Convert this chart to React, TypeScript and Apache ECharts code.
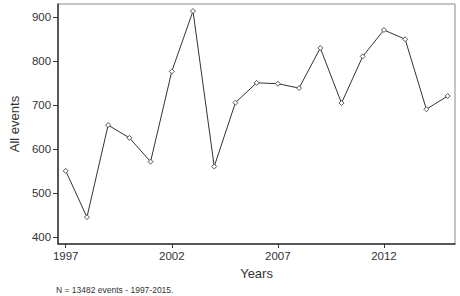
import React, { useEffect, useRef } from "react";
import * as echarts from "echarts";

const years = [1997, 1998, 1999, 2000, 2001, 2002, 2003, 2004, 2005, 2006, 2007, 2008, 2009, 2010, 2011, 2012, 2013, 2014, 2015];
const events = [550, 445, 654, 625, 571, 776, 913, 560, 705, 750, 748, 738, 829, 704, 810, 870, 849, 690, 720];
const yTicks = [400, 500, 600, 700, 800, 900];
const xTicks = [1997, 2002, 2007, 2012];
const caption = "N = 13482 events - 1997-2015.";

export default function App() {
  const ref = useRef<HTMLDivElement>(null);
  useEffect(() => {
    if (!ref.current) return;
    const chart = echarts.init(ref.current, undefined, { renderer: "svg" });
    const font = "Liberation Sans, Arial, sans-serif";
    chart.setOption({
      animation: false,
      backgroundColor: "#ffffff",
      grid: {
        left: 54,
        right: 5,
        top: 4,
        bottom: 52,
        show: true,
        borderColor: "#8a8a8a",
        borderWidth: 1,
        containLabel: false,
      },
      xAxis: {
        type: "value",
        min: 1996.64,
        max: 2015.35,
        name: "Years",
        nameLocation: "middle",
        nameGap: 22,
        nameTextStyle: { fontFamily: font, fontSize: 13, color: "#333" },
        axisLine: { show: true, lineStyle: { color: "#333", width: 1.5 } },
        axisTick: { show: true, length: 4, customValues: xTicks, lineStyle: { color: "#333" } },
        axisLabel: {
          customValues: xTicks,
          formatter: (v: number) => String(Math.round(v)),
          fontFamily: font,
          fontSize: 11.5,
          color: "#333",
          margin: 6,
        },
        splitLine: { show: false },
      },
      yAxis: {
        type: "value",
        min: 384,
        max: 929,
        name: "All events",
        nameLocation: "middle",
        nameGap: 37,
        nameRotate: 90,
        nameTextStyle: { fontFamily: font, fontSize: 13, color: "#333" },
        axisLine: { show: true, lineStyle: { color: "#333", width: 1.5 } },
        axisTick: { show: true, length: 5, customValues: yTicks, lineStyle: { color: "#333" } },
        axisLabel: {
          customValues: yTicks,
          fontFamily: font,
          fontSize: 11.5,
          color: "#333",
          margin: 7,
        },
        splitLine: { show: false },
      },
      series: [
        {
          type: "line",
          data: years.map((y, i) => [y, events[i]]),
          symbol: "diamond",
          symbolSize: 5,
          showAllSymbol: true,
          lineStyle: { color: "#333", width: 1 },
          itemStyle: { color: "#fff", borderColor: "#555", borderWidth: 1 },
        },
      ],
      graphic: [
        {
          type: "text",
          left: 56,
          top: 285,
          style: { text: caption, fontFamily: font, fontSize: 8.5, fill: "#333" },
        },
      ],
    });
    return () => chart.dispose();
  }, []);
  return <div ref={ref} style={{ position: "fixed", left: 0, top: 0, width: 460, height: 296 }} />;
}
